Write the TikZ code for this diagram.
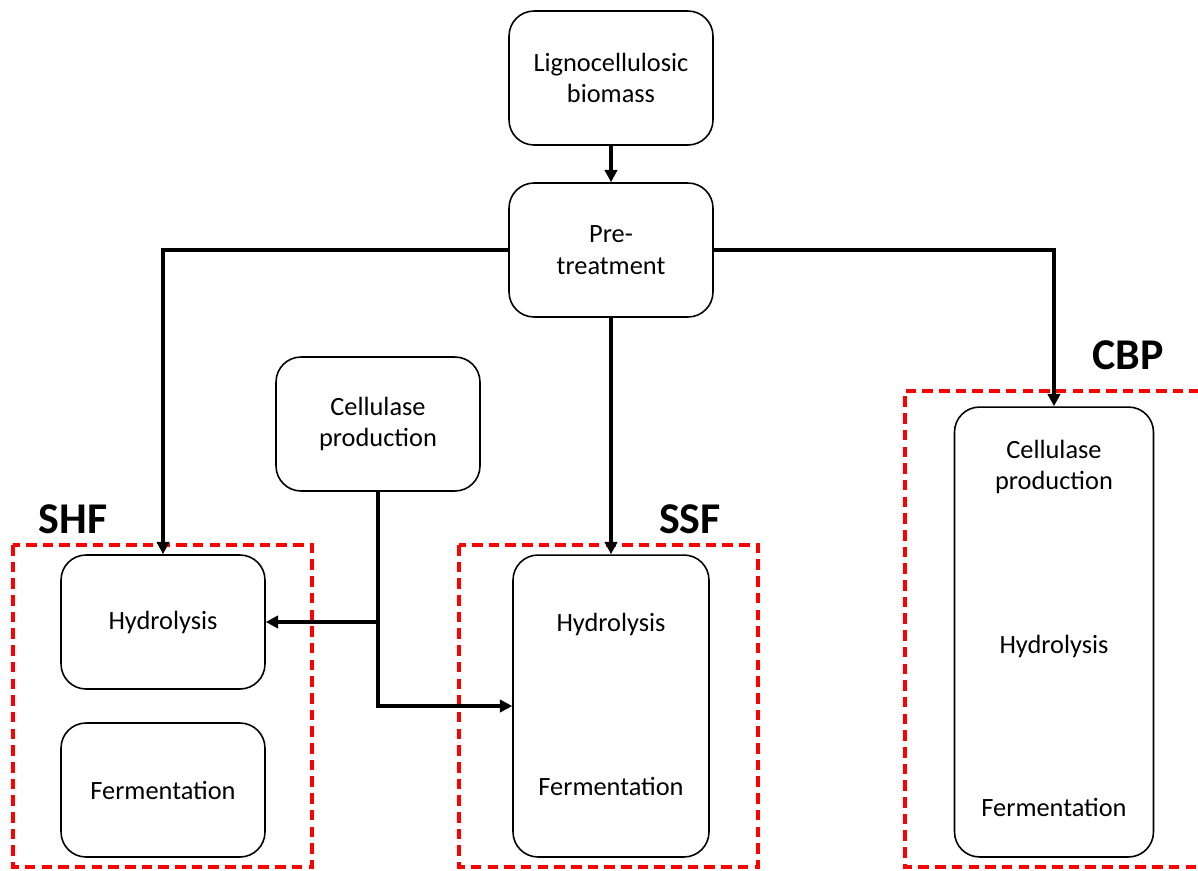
\documentclass[tikz,border=0pt]{standalone}
\usepackage{fontspec}
\setmainfont{Carlito}
\usetikzlibrary{arrows.meta}
\tikzset{
    stepbox/.style={draw, line width=0.9pt, rounded corners=0.5cm, align=center,
        font=\fontsize{15pt}{18pt}\selectfont, minimum width=4.08cm, minimum height=2.68cm, inner sep=0pt},
    plain/.style={align=center, font=\fontsize{15pt}{18pt}\selectfont, inner sep=0pt},
    route/.style={draw=red, line width=1.8pt, dash pattern=on 6pt off 3.5pt},
    routelabel/.style={font=\fontsize{25pt}{30pt}\selectfont\bfseries, inner sep=0pt},
    flow/.style={line width=1.8pt, -{Triangle[length=7pt,width=7pt]}}
}
\begin{document}
\begin{tikzpicture}[x=0.02cm, y=-0.02cm]
        \useasboundingbox (0,0) rectangle (1198,870);
        % Tronc commun
        \node[stepbox] (biomass) at (611,78) {Lignocellulosic\\biomass};
        \node[stepbox] (pre) at (611,250) {Pre-\\treatment};
        \node[stepbox] (cell) at (378,424) {Cellulase\\production};
        % Procede SHF
        \begin{scope}
            \draw[route] (13,545) rectangle (312,867);
            \node[routelabel] (shflabel) at (73,519) {SHF};
            \node[stepbox] (shfhyd) at (163,622) {Hydrolysis};
            \node[stepbox] (shffer) at (163,790) {Fermentation};
        \end{scope}
        % Procede SSF
        \begin{scope}
            \draw[route] (459,545) rectangle (758,867);
            \node[routelabel] (ssflabel) at (690,519) {SSF};
            \node[stepbox, minimum width=3.92cm, minimum height=6.04cm] (ssf) at (611,706) {};
            \node[plain] (ssfhyd) at (611,624) {Hydrolysis};
            \node[plain] (ssffer) at (611,786) {Fermentation};
        \end{scope}
        % Procede CBP
        \begin{scope}
            \draw[route] (1200,391) -- (905,391) -- (905,867) -- (1200,867);
            \node[routelabel] (cbplabel) at (1128,355) {CBP};
            \node[stepbox, minimum width=3.98cm, minimum height=9cm] (cbp) at (1054,632) {};
            \node[plain] (cbpcell) at (1054,467) {Cellulase\\production};
            \node[plain] (cbphyd) at (1054,646) {Hydrolysis};
            \node[plain] (cbpfer) at (1054,807) {Fermentation};
        \end{scope}
        % Fleches
        \draw[flow] (biomass) -- (pre);
        \draw[flow] (pre.west) -| (shfhyd.north);
        \draw[flow] (pre) -- (ssf);
        \draw[flow] (pre.east) -| (cbp.north);
        \draw[flow] (cell.south) |- (shfhyd.east);
        \draw[flow] (cell.south) |- (ssf.west);
    \end{tikzpicture}
\end{document}
